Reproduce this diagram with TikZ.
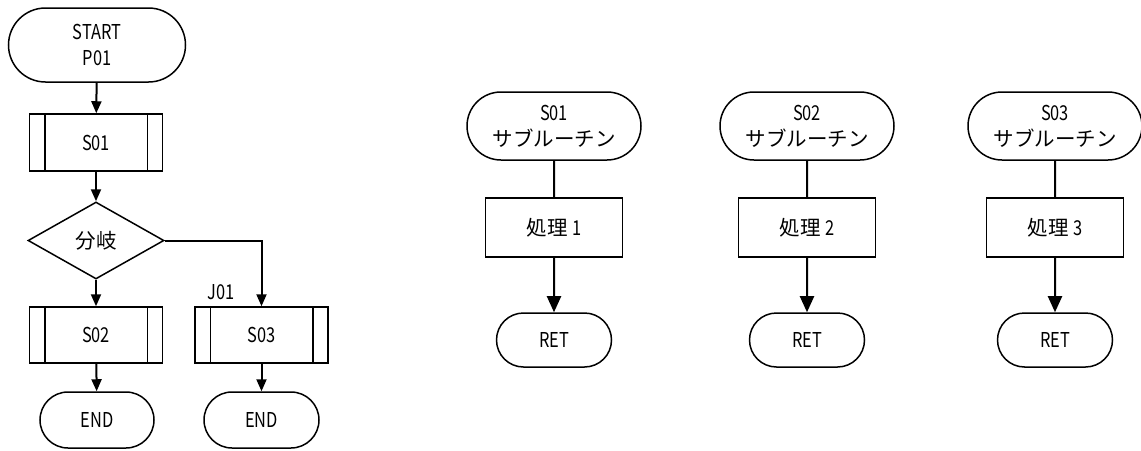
\documentclass[tikz,border=0pt]{standalone}
\usepackage{fontspec}
\setmainfont{Noto Sans CJK JP}
\newfontfamily\latn[FakeStretch=0.8]{Noto Sans CJK JP}
\usetikzlibrary{shapes.misc,shapes.geometric,arrows.meta}
\tikzset{
  base/.style={draw, line width=1.5pt, inner sep=0pt, font=\fontsize{20.5}{26}\selectfont, align=center},
  term/.style={base, rounded rectangle},
  proc/.style={base, rectangle},
  dec/.style={base, diamond},
  flow/.style={line width=2pt, -{Triangle[length=12pt,width=10pt]}},
  bigflow/.style={line width=2pt, -{Triangle[length=16pt,width=14pt]}},
  plain/.style={line width=2pt},
}
\newcommand{\subbars}[1]{%
  \draw[line width=1.5pt] ([xshift=16pt]#1.north west) -- ([xshift=16pt]#1.south west);
  \draw[line width=1.5pt] ([xshift=-16pt]#1.north east) -- ([xshift=-16pt]#1.south east);}
\begin{document}
\begin{tikzpicture}[x=1pt,y=-1pt]
\useasboundingbox (0,0) rectangle (1141,450);
% left flow
\node[term, minimum width=177pt, minimum height=74pt] (start) at (97,45) {\latn START\\\latn P01};
\node[proc, minimum width=133pt, minimum height=57pt] (s01) at (96,142.5) {\latn S01};
\subbars{s01}
\node[dec, minimum width=136pt, minimum height=77pt] (br) at (96,240.5) {分岐};
\node[proc, minimum width=133pt, minimum height=56pt] (s02) at (96,335) {\latn S02};
\subbars{s02}
\node[proc, minimum width=133pt, minimum height=56pt] (s03) at (261.5,335) {\latn S03};
\subbars{s03}
\node[font=\fontsize{20.5}{24}\selectfont\latn, inner sep=0pt] (j01) at (221,292) {J01};
\node[term, minimum width=114pt, minimum height=56pt] (end1) at (97,420) {\latn END};
\node[term, minimum width=115pt, minimum height=56pt] (end2) at (261.5,420) {\latn END};
\coordinate (bend) at (s03.north |- br.east);
\draw[flow] (start) -- (s01);
\draw[flow] (s01) -- (br);
\draw[flow] (br) -- (s02);
\draw[flow] (br.east) -- (bend) -- (s03.north);
\draw[flow] (s02) -- (end1);
\draw[flow] (s03) -- (end2);
% subroutines
\foreach \n/\cx in {1/554,2/807,3/1055}{
  \node[term, minimum width=174pt, minimum height=68pt] (sub\n) at (\cx,126) {{\latn S0\n}\\サブルーチン};
  \node[proc, minimum width=137pt, minimum height=59pt] (p\n) at (\cx,227.5) {処理 {\latn\n}};
  \node[term, minimum width=115pt, minimum height=54pt] (ret\n) at (\cx,340) {\latn RET};
  \draw[plain] (sub\n) -- (p\n);
  \draw[bigflow] (p\n) -- (ret\n);
}
\end{tikzpicture}
\end{document}
